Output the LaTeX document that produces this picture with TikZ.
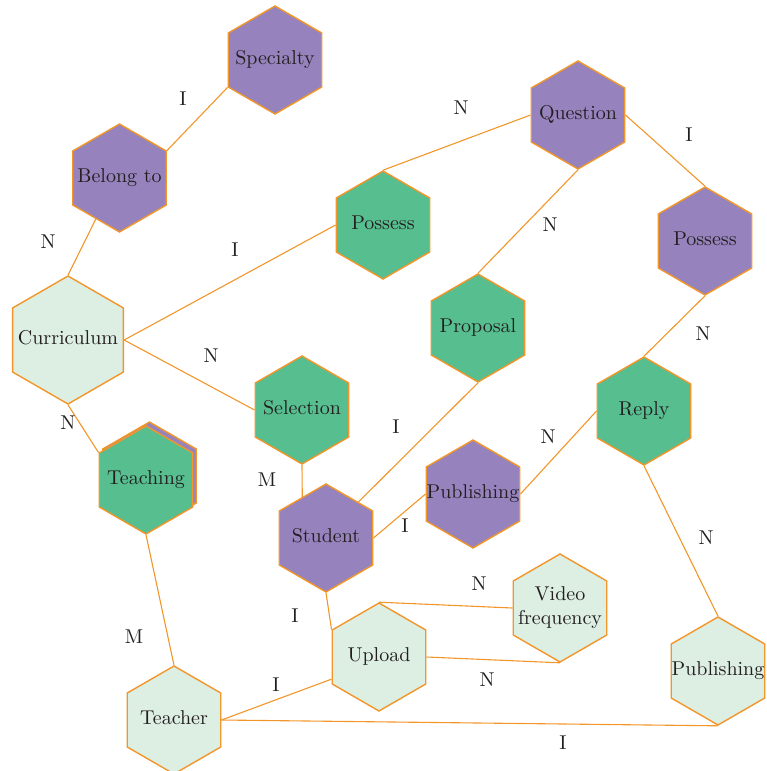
\documentclass[tikz,border=0pt]{standalone}
\usepackage{tikz}
\usetikzlibrary{shapes.geometric}

\definecolor{hexpurple}{RGB}{150,131,190}
\definecolor{hexgreen}{RGB}{86,190,143}
\definecolor{hexlight}{RGB}{221,238,227}
\definecolor{edgeorange}{RGB}{242,150,42}
\definecolor{txt}{RGB}{35,31,32}

% text that does not widen the hexagon
\newcommand{\hextext}[1]{\makebox[0pt]{\begin{tabular}{@{}c@{}}#1\end{tabular}}}

\begin{document}
\begin{tikzpicture}[x=0.5pt,y=-0.5pt,
  hex/.style={regular polygon, regular polygon sides=6, shape border rotate=30,
    minimum size=54pt, inner sep=0pt, draw=edgeorange, line width=0.7pt,
    text=txt, font=\normalsize},
  hexP/.style={hex, fill=hexpurple},
  hexG/.style={hex, fill=hexgreen},
  hexL/.style={hex, fill=hexlight},
  lbl/.style={text=txt, inner sep=0pt},
  link/.style={draw=edgeorange, line width=0.55pt}]

\useasboundingbox (0,0) rectangle (766,771);

% Entities and relations
\node[hexP] (specialty) at (275,60) {\hextext{Specialty}};
\node[hexP] (belong) at (119.5,178) {\hextext{Belong to}};
\node[hexP] (question) at (578,115) {\hextext{Question}};
\node[hexP] (possessP) at (705,241) {\hextext{Possess}};
\node[hexG] (possessG) at (383,225) {\hextext{Possess}};
\node[hexL, minimum size=64pt] (curriculum) at (68,340) {\hextext{Curriculum}};
\node[hexG] (proposal) at (478,328) {\hextext{Proposal}};
\node[hexG] (selection) at (302,410) {\hextext{Selection}};
\node[hexG] (reply) at (644,411) {\hextext{Reply}};
\node[hexP] (teachingback) at (149.5,476) {};
\node[hexG] (teaching) at (146,480) {\hextext{Teaching}};
\node[hexP] (student) at (326,538) {\hextext{Student}};
\node[hexP] (publishingP) at (473,494) {\hextext{Publishing}};
\node[hexL] (video) at (560,608) {\hextext{Video\\frequency}};
\node[hexL] (upload) at (379,657) {\hextext{Upload}};
\node[hexL] (publishingL) at (718,671) {\hextext{Publishing}};
\node[hexL] (teacher) at (174,720) {\hextext{Teacher}};

% Connectors
\draw[link] (specialty.210) -- (belong.30);
\draw[link] (belong.240) -- (curriculum.90);
\draw[link] (curriculum.0) -- (possessG.180);
\draw[link] (curriculum.0) -- (selection.180);
\draw[link] (curriculum.270) -- (teaching.150);
\draw[link] (teaching.270) -- (teacher.90);
\draw[link] (possessG.90) -- (question.180);
\draw[link] (question.270) -- (proposal.90);
\draw[link] (question.0) -- (possessP.90);
\draw[link] (possessP.270) -- (reply.90);
\draw[link] (proposal.270) -- (student.48);
\draw[link] (selection.270) -- (student.120);
\draw[link] (student.0) -- (publishingP.180);
\draw[link] (publishingP.0) -- (reply.180);
\draw[link] (reply.270) -- (publishingL.90);
\draw[link] (student.270) -- (upload.150);
\draw[link] (upload.90) -- (video.180);
\draw[link] (upload.0) -- (video.270);
\draw[link] (upload.205) -- (teacher.0);
\draw[link] (teacher.0) -- (publishingL.270);

% Cardinalities
\node[lbl] (c1) at (183,99) {I};
\node[lbl] (c2) at (48,242) {N};
\node[lbl] (c3) at (235,250) {I};
\node[lbl] (c4) at (461,108) {N};
\node[lbl] (c5) at (689,135) {I};
\node[lbl] (c6) at (550,225) {N};
\node[lbl] (c7) at (703,334) {N};
\node[lbl] (c8) at (211,356) {N};
\node[lbl] (c9) at (68,423) {N};
\node[lbl] (c10) at (267,480) {M};
\node[lbl] (c11) at (396,427) {I};
\node[lbl] (c12) at (548,437) {N};
\node[lbl] (c13) at (405,526) {I};
\node[lbl] (c14) at (706,538) {N};
\node[lbl] (c15) at (479,584) {N};
\node[lbl] (c16) at (295,616) {I};
\node[lbl] (c17) at (487,680) {N};
\node[lbl] (c18) at (276,685) {I};
\node[lbl] (c19) at (563,743) {I};
\node[lbl] (c20) at (134,637) {M};

\end{tikzpicture}
\end{document}
